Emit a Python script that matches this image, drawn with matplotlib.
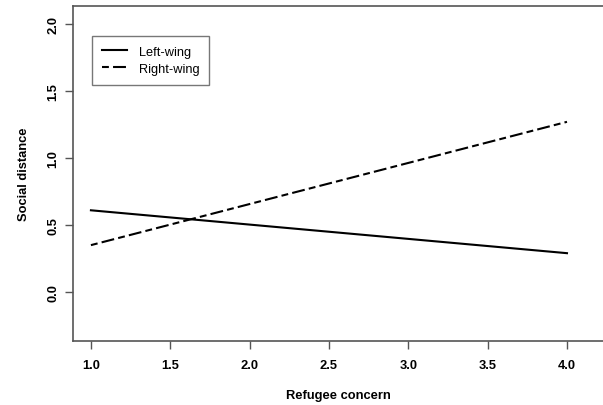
import matplotlib.pyplot as plt

# refugee concern range and predicted social distance at each end
concern = [1.0, 4.0]
left_wing = [0.61, 0.29]
right_wing = [0.35, 1.27]

x_ticks = [1.0, 1.5, 2.0, 2.5, 3.0, 3.5, 4.0]
y_ticks = [0.0, 0.5, 1.0, 1.5, 2.0]

plt.rcParams['font.family'] = ['Liberation Sans', 'DejaVu Sans']

fig = plt.figure(figsize=(6.03, 4.06), dpi=100)
ax = fig.add_axes([73 / 603, 1 - 341.7 / 406, 1 - 73 / 603, (341.7 - 7.3) / 406])

ax.plot(concern, left_wing, color='black', lw=1.5, label='Left-wing')
ax.plot(concern, right_wing, color='black', lw=1.5, dashes=(3.3, 2, 6.2, 2), label='Right-wing')

ax.set_xlim(0.887, 4.227)
ax.set_ylim(-0.363, 2.132)
ax.set_xticks(x_ticks)
ax.set_xticklabels([f'{v:.1f}' for v in x_ticks], fontweight='bold', fontsize=9.3)
ax.set_yticks(y_ticks)
ax.set_yticklabels([f'{v:.1f}' for v in y_ticks], fontweight='bold', fontsize=9.3,
                   rotation=90, va='center')
ax.tick_params(colors='#555555', labelcolor='black', length=6, width=1, pad=7)
ax.tick_params(axis='y', pad=4)

for side in ['left', 'bottom', 'top']:
    ax.spines[side].set_color('#555555')
    ax.spines[side].set_linewidth(1.2)
ax.spines['right'].set_visible(False)

ax.set_xlabel('Refugee concern', fontweight='bold', fontsize=9.3, labelpad=13)
ax.set_ylabel('Social distance', fontweight='bold', fontsize=9.3, labelpad=12)

leg = ax.legend(loc='upper left', bbox_to_anchor=(19 / 530, 1 - 29.7 / 334.4), fontsize=9.2,
                frameon=True, fancybox=False, edgecolor='#555555', handlelength=1.95,
                handletextpad=0.95, borderpad=0.75, labelspacing=0.42, borderaxespad=0)
leg.get_frame().set_linewidth(1.0)

fig.savefig('out.png', dpi=100)
